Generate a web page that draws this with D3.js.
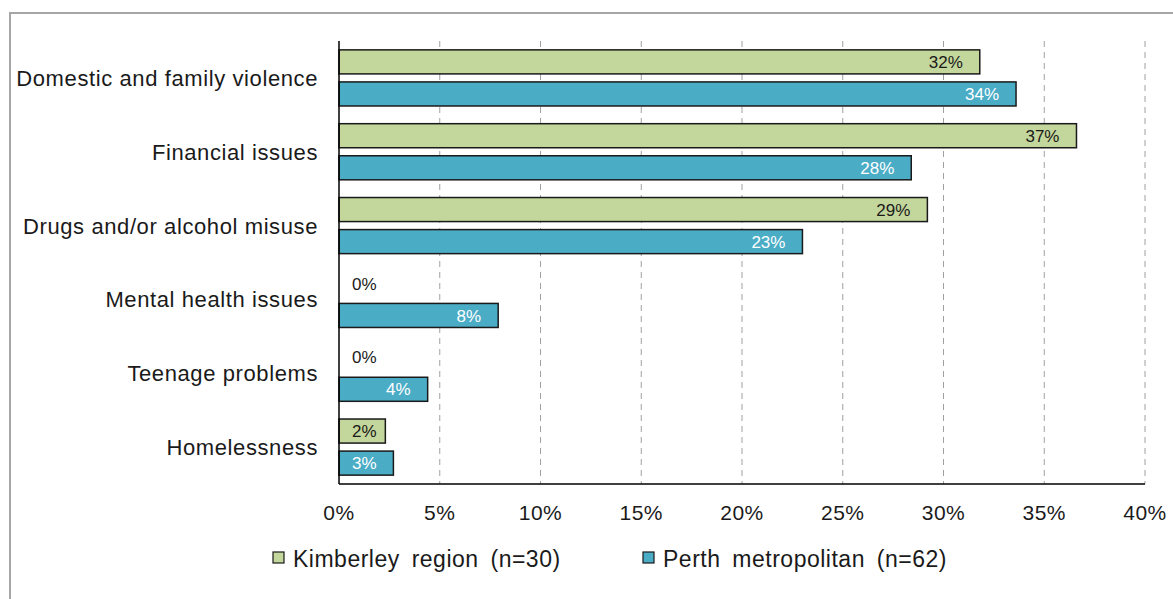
<!DOCTYPE html>
<html>
<head>
<meta charset="utf-8">
<script src="https://cdn.jsdelivr.net/npm/d3@7"></script>
<style>
  body { margin: 0; background: #fff; }
  text { font-family: "Liberation Sans", Arial, sans-serif; fill: #1a1a1a; }
</style>
</head>
<body>
<svg id="chart" width="1173" height="599"></svg>
<script>
const categories = [
    'Domestic and family violence',
    'Financial issues',
    'Drugs and/or alcohol misuse',
    'Mental health issues',
    'Teenage problems',
    'Homelessness'
];
const seriesNames = ['Kimberley region (n=30)', 'Perth metropolitan (n=62)'];
const kimberley = [31.8, 36.6, 29.2, 0, 0, 2.3];
const perth = [33.6, 28.4, 23.0, 7.9, 4.4, 2.7];
const xTicks = [0, 5, 10, 15, 20, 25, 30, 35, 40];

const colors = ['#c3d69b', '#4bacc6'];
const labelColors = ['#1a1a1a', '#ffffff'];

const svg = d3.select('#chart');

// outer frame (runs off the right/bottom edge like the screenshot)
svg.append('rect')
    .attr('x', 10).attr('y', 13)
    .attr('width', 1300).attr('height', 700)
    .attr('fill', 'none').attr('stroke', '#a6a6a6').attr('stroke-width', 2);

const plotLeft = 339, plotRight = 1145, plotTop = 41, plotBottom = 484;

const x = d3.scaleLinear().domain([0, 40]).range([plotLeft, plotRight]);
const y = d3.scaleBand().domain(categories).range([plotTop, plotBottom])
    .paddingInner(0.24).paddingOuter(0.12);
const ySub = d3.scaleBand().domain([0, 1]).range([0, y.bandwidth()]).paddingInner(0.25);

// dashed gridlines
svg.append('g').selectAll('line')
    .data(xTicks.slice(1))
    .enter().append('line')
    .attr('x1', d => x(d)).attr('x2', d => x(d))
    .attr('y1', plotTop).attr('y2', plotBottom)
    .attr('stroke', '#a0a0a0').attr('stroke-dasharray', '6,5');

// bars
const rows = categories.map((c, i) => ({ cat: c, vals: [kimberley[i], perth[i]] }));

const group = svg.append('g').selectAll('g')
    .data(rows)
    .enter().append('g')
    .attr('transform', d => `translate(0, ${y(d.cat)})`);

group.selectAll('rect')
    .data(d => d.vals.map((v, s) => ({ v, s })).filter(d => d.v > 0))
    .enter().append('rect')
    .attr('x', x(0))
    .attr('y', d => ySub(d.s))
    .attr('width', d => x(d.v) - x(0))
    .attr('height', ySub.bandwidth())
    .attr('fill', d => colors[d.s])
    .attr('stroke', '#1a1a1a').attr('stroke-width', 1.5);

// value labels, inside end, pushed right when the bar is too short
group.selectAll('text.val')
    .data(d => d.vals.map((v, s) => ({ v, s })))
    .enter().append('text')
    .attr('class', 'val')
    .attr('y', d => ySub(d.s) + ySub.bandwidth() / 2)
    .attr('dy', '0.36em')
    .style('font-size', '17px')
    .style('fill', d => d.v > 0 ? labelColors[d.s] : '#1a1a1a')
    .text(d => Math.round(d.v) + '%')
    .each(function (d) {
        const w = this.getComputedTextLength();
        const xs = Math.max(x(d.v) - 17 - w, x(0) + 13);
        d3.select(this).attr('x', xs);
    });

// axes lines
svg.append('line')
    .attr('x1', plotLeft).attr('x2', plotLeft).attr('y1', plotTop).attr('y2', plotBottom)
    .attr('stroke', '#000').attr('stroke-width', 1.5);
svg.append('line')
    .attr('x1', plotLeft).attr('x2', plotRight).attr('y1', plotBottom).attr('y2', plotBottom)
    .attr('stroke', '#000').attr('stroke-width', 1.5);

// x tick labels
svg.append('g').selectAll('text')
    .data(xTicks)
    .enter().append('text')
    .attr('x', d => x(d))
    .attr('y', 520)
    .attr('text-anchor', 'middle')
    .style('font-size', '21px')
    .style('letter-spacing', '0.5px')
    .text(d => d + '%');

// category labels
svg.append('g').selectAll('text')
    .data(categories)
    .enter().append('text')
    .attr('x', 318)
    .attr('y', d => y(d) + y.bandwidth() / 2)
    .attr('dy', '0.36em')
    .attr('text-anchor', 'end')
    .style('font-size', '22px')
    .style('letter-spacing', '0.6px')
    .text(d => d);

// legend
const legendX = [273, 643];
const legend = svg.append('g').selectAll('g')
    .data(seriesNames)
    .enter().append('g')
    .attr('transform', (d, i) => `translate(${legendX[i]}, 552)`);
legend.append('rect')
    .attr('width', 11).attr('height', 11)
    .attr('fill', (d, i) => colors[i])
    .attr('stroke', '#1a1a1a').attr('stroke-width', 1.2);
legend.append('text')
    .attr('x', 20).attr('y', 15)
    .style('font-size', '23px')
    .style('letter-spacing', '0.5px')
    .style('word-spacing', '5px')
    .text(d => d);
</script>
</body>
</html>
